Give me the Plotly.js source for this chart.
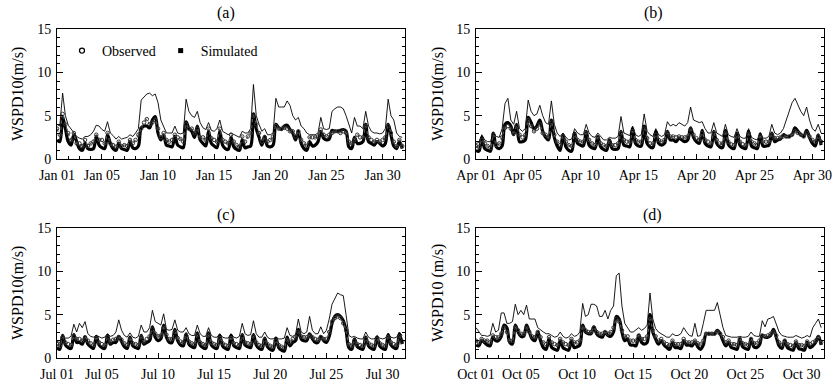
<!DOCTYPE html>
<html><head><meta charset="utf-8">
<script src="https://cdn.plot.ly/plotly-3.0.1.min.js"></script>
<style>html,body{margin:0;padding:0;background:#fff}#chart{width:837px;height:384px}</style>
</head><body><div id="chart"></div>
<script>
// ---- categories / labels ----
const panelLabels = ['(a)', '(b)', '(c)', '(d)'];
const monthNames = ['Jan', 'Apr', 'Jul', 'Oct'];
const monthIndex = [0, 3, 6, 9];
const monthDays = [31, 30, 31, 31];
const tickDays = [1, 5, 10, 15, 20, 25, 30];
const yTitles = ['WSPD10(m/s)', 'WSPD10(m/s)', 'WSPD10(m/s)', 'WSPD10 (m/s)'];
const legendNames = ['Observed', 'Simulated'];
const samplesPerDay = 4; // 00, 06, 12, 18 h

// ---- series values (m/s), 4 samples per day ----
const janThin = [
4.0,3.8,7.6,5.0, 3.9,3.5,3.0,2.6, 2.4,2.3,2.6,2.6, 2.8,3.2,3.9,3.8, 3.4,3.2,4.3,3.0,
2.7,2.3,2.6,2.3, 2.4,2.5,2.8,2.6, 3.0,3.5,6.8,7.2, 7.5,7.6,7.3,7.5, 6.5,4.5,3.8,3.0,
3.0,3.0,3.8,3.0, 2.9,3.0,6.9,5.5, 5.0,4.8,5.5,4.2, 3.6,3.4,4.2,3.3, 3.2,3.5,4.5,3.2,
3.0,2.8,3.0,2.8, 2.6,2.5,3.2,3.0, 3.0,3.5,8.6,5.0, 4.0,3.2,3.5,2.8, 2.8,3.0,7.0,6.0,
6.0,6.0,6.7,6.2, 5.0,4.5,4.8,3.8, 3.5,3.0,2.8,2.8, 2.8,3.0,4.8,3.5, 3.4,3.5,5.5,5.8,
6.0,6.0,5.8,5.0, 4.0,3.0,4.8,3.8, 3.8,3.5,5.5,3.8, 3.2,3.0,3.0,2.9, 3.0,3.5,6.9,5.0,
4.5,3.0,2.6,2.5];
const janObs = [
3.5,2.8,5.2,4.0, 3.0,2.2,3.0,1.8, 1.8,1.5,2.2,1.5, 1.8,2.0,2.8,2.2, 2.2,1.8,3.0,1.8,
1.6,1.4,2.0,1.5, 1.6,1.5,2.2,1.8, 2.2,2.8,3.5,4.2, 4.6,4.0,4.2,4.5, 3.5,2.5,3.0,2.2,
2.0,2.2,2.8,2.5, 2.3,2.0,4.0,3.5, 3.5,3.0,3.5,2.5, 2.5,2.2,3.5,2.4, 2.2,2.0,3.5,2.2,
2.0,1.8,2.8,2.0, 1.6,1.4,2.6,2.0, 2.6,3.0,5.0,4.0, 3.0,2.0,2.5,2.0, 2.2,2.6,3.8,3.5,
3.5,3.6,3.5,3.2, 3.2,2.6,3.2,2.2, 1.8,1.5,2.5,2.5, 2.5,2.6,3.4,2.8, 2.6,2.8,3.0,3.2,
3.2,3.0,3.2,3.0, 2.0,1.8,2.2,2.8, 2.5,2.5,3.8,2.5, 2.2,2.0,2.2,2.0, 2.2,2.5,3.8,3.0,
2.0,1.5,2.2,1.5];
const janSim = [
2.2,2.0,4.8,3.5, 2.0,1.6,2.8,2.0, 1.2,1.0,1.8,1.2, 1.1,1.2,2.6,1.6, 1.3,1.2,2.8,1.8,
1.2,1.0,1.8,1.2, 1.1,1.0,2.0,1.3, 1.2,1.5,3.6,3.8, 3.8,3.6,4.5,4.9, 3.0,2.2,2.8,1.6,
1.5,1.4,2.6,1.6, 1.4,1.3,4.3,3.5, 3.2,2.5,3.8,2.2, 1.8,1.5,3.2,1.8, 1.5,1.3,3.2,1.6,
1.2,1.1,2.5,1.4, 1.1,1.0,2.2,1.3, 1.4,1.5,5.2,3.5, 2.5,1.6,2.6,1.5, 1.4,1.6,4.0,3.6,
3.4,3.8,3.9,3.4, 3.0,2.2,3.2,1.8, 1.2,1.0,2.0,1.5, 1.6,2.0,3.2,2.4, 2.2,2.3,3.3,3.2,
3.2,3.3,3.4,3.2, 1.4,1.2,2.5,1.8, 1.8,2.0,4.0,2.0, 1.8,1.6,2.0,1.8, 1.5,1.8,4.0,2.8,
1.5,1.2,2.0,1.2];

const aprThin = [
1.8,1.9,2.8,2.2, 2.0,2.0,3.0,2.6, 2.5,3.5,6.4,7.0, 4.5,4.0,5.5,3.5, 3.2,3.5,6.8,5.5,
5.0,5.2,6.2,5.0, 4.2,4.0,6.7,4.0, 3.0,2.6,3.0,2.5, 2.2,2.3,3.5,3.0, 2.8,2.8,4.0,3.0,
2.6,2.5,3.0,2.6, 2.2,2.2,2.5,2.4, 2.4,2.6,4.9,3.0, 2.8,2.7,3.8,2.8, 2.6,2.8,5.2,3.2,
2.8,2.6,3.5,2.8, 2.6,2.8,4.3,3.8, 4.0,3.8,4.2,4.0, 3.8,4.2,6.0,4.5, 4.3,4.2,4.3,3.5,
3.0,3.0,4.2,3.0, 2.8,2.6,4.0,2.8, 2.6,2.5,3.5,2.6, 2.4,2.4,3.5,2.5, 2.3,2.2,3.0,2.4,
2.4,2.6,4.0,3.0, 2.8,3.0,3.5,4.5, 5.5,6.5,7.0,6.2, 5.5,5.0,6.0,4.5, 3.5,3.2,4.0,3.0];
const aprObs = [
1.5,1.4,2.2,1.8, 1.5,1.3,2.8,1.6, 1.8,2.5,3.6,3.8, 3.5,3.0,3.8,2.8, 2.5,2.8,4.5,3.8,
3.2,3.5,4.0,3.0, 2.8,2.5,4.2,2.8, 2.0,1.6,2.6,2.0, 1.6,1.5,2.8,2.2, 2.0,2.0,3.0,2.2,
1.8,1.6,2.5,1.8, 1.6,1.5,2.0,1.6, 1.6,1.8,3.0,2.2, 2.0,2.0,3.2,2.2, 2.0,2.0,3.5,2.4,
1.8,1.8,2.8,2.2, 2.0,2.2,3.0,2.6, 2.6,2.5,2.6,2.5, 2.5,2.6,3.4,2.8, 2.4,2.2,3.0,2.2,
2.0,1.8,3.0,2.2, 1.8,1.8,3.0,2.0, 1.7,1.6,2.8,2.0, 1.7,1.6,2.9,2.0, 1.8,1.6,2.6,2.0,
2.0,2.0,2.8,2.4, 2.4,2.5,2.6,2.6, 2.6,2.8,3.2,3.0, 2.8,2.6,3.0,2.6, 2.2,2.0,2.6,2.0];
const aprSim = [
1.0,0.9,2.5,1.2, 1.0,0.9,3.0,1.4, 1.2,1.5,4.0,4.2, 3.8,2.8,4.0,2.0, 2.0,2.2,4.8,4.2,
3.5,3.8,4.5,3.2, 2.5,2.2,4.5,2.5, 1.5,1.0,2.8,1.4, 1.0,0.9,3.0,1.8, 1.6,1.5,3.2,1.6,
1.3,1.2,2.6,1.4, 1.1,1.0,2.2,1.2, 1.1,1.2,3.2,1.6, 1.5,1.4,3.5,1.8, 1.5,1.5,3.8,1.8,
1.4,1.3,3.2,1.8, 1.6,1.8,3.2,2.2, 2.2,2.0,2.4,2.2, 2.0,2.2,3.6,2.5, 2.0,1.8,3.3,1.8,
1.5,1.4,3.2,1.8, 1.4,1.3,3.3,1.7, 1.3,1.2,3.0,1.6, 1.3,1.2,3.2,1.5, 1.3,1.2,2.9,1.5,
1.5,1.6,3.0,2.0, 2.2,2.3,2.8,2.6, 2.6,2.8,3.6,3.2, 2.8,2.6,3.3,2.5, 1.8,1.5,2.8,1.6];

const julThin = [
1.9,1.8,2.2,2.3, 2.3,2.5,3.9,3.0, 4.0,3.5,4.2,2.8, 2.5,2.4,2.6,2.4, 2.3,2.4,2.8,2.5,
2.6,3.0,4.4,3.2, 2.6,2.4,2.9,2.4, 2.3,2.5,3.8,3.0, 3.0,3.5,5.5,4.2, 4.0,3.8,5.1,3.3,
3.2,3.3,4.4,3.2, 3.0,3.0,3.5,2.8, 2.6,2.6,3.8,2.8, 2.5,2.5,3.5,2.6, 2.4,2.4,2.8,2.4,
2.3,2.3,2.8,2.4, 2.3,2.5,4.0,2.8, 2.6,2.7,4.3,2.8, 2.4,2.4,3.0,2.4, 2.2,2.2,2.4,2.2,
2.2,2.3,3.5,2.6, 2.5,2.7,4.5,3.0, 2.8,3.0,4.8,3.2, 2.8,2.8,3.6,2.8, 3.2,4.5,6.2,6.8,
7.5,7.3,7.2,5.0, 2.6,2.4,2.5,2.3, 2.2,2.2,3.0,2.4, 2.2,2.2,2.6,2.3, 2.2,2.3,2.8,2.4,
2.3,2.4,3.0,2.6];
const julObs = [
1.6,1.4,2.4,1.8, 1.6,1.5,2.5,2.2, 2.2,2.0,2.4,2.0, 1.7,1.5,2.3,1.8, 1.6,1.5,2.4,1.9,
2.1,2.2,2.4,2.1, 1.7,1.5,2.2,1.7, 1.6,1.5,2.4,1.9, 2.2,2.5,3.3,2.8, 2.5,2.6,3.5,2.7,
2.2,2.2,3.0,2.3, 1.9,1.8,2.6,1.9, 1.7,1.6,2.6,1.8, 1.6,1.5,2.6,1.8, 1.6,1.5,2.3,1.7,
1.5,1.4,2.3,1.7, 1.6,1.5,2.5,1.8, 1.7,1.6,2.5,1.8, 1.5,1.4,2.1,1.6, 1.4,1.3,2.0,1.5,
1.3,1.2,2.1,1.8, 2.2,2.4,3.0,2.5, 2.4,2.4,2.6,2.4, 2.2,2.1,2.4,2.2, 2.2,3.0,4.2,4.6,
4.8,4.6,4.0,3.2, 1.6,1.4,2.0,1.6, 1.5,1.4,2.2,1.7, 1.5,1.4,2.2,1.7, 1.5,1.4,2.4,1.8,
1.6,1.5,2.5,1.9];
const julSim = [
1.2,1.0,2.6,1.5, 1.2,1.1,2.7,1.8, 1.8,1.6,2.4,1.6, 1.3,1.1,2.5,1.5, 1.2,1.1,2.6,1.6,
1.8,1.8,2.5,1.9, 1.3,1.1,2.4,1.4, 1.2,1.1,2.6,1.6, 1.8,2.0,3.6,2.4, 2.0,2.2,3.8,2.4,
1.8,1.8,3.3,2.0, 1.5,1.4,2.8,1.6, 1.3,1.2,2.9,1.5, 1.2,1.1,2.9,1.5, 1.2,1.1,2.6,1.4,
1.1,1.0,2.6,1.4, 1.2,1.1,2.7,1.5, 1.3,1.2,2.7,1.5, 1.1,1.0,2.3,1.3, 1.0,0.9,2.3,1.2,
0.9,0.8,2.4,1.4, 1.8,2.0,3.3,2.2, 2.0,2.0,2.8,2.2, 1.8,1.8,2.5,2.0, 1.8,2.5,4.0,4.8,
5.0,4.8,4.3,3.2, 1.2,1.0,2.2,1.3, 1.1,1.0,2.4,1.4, 1.1,1.0,2.4,1.4, 1.1,1.0,2.7,1.5,
1.2,1.1,2.8,1.6];

const octThin = [
3.5,3.0,2.6,2.6, 2.5,2.6,4.0,3.0, 3.2,5.2,5.2,4.0, 4.0,4.2,6.2,5.0, 5.5,5.0,6.1,4.5,
4.5,4.5,3.5,3.2, 3.0,2.8,2.8,2.6, 2.4,2.5,3.0,2.5, 2.3,2.4,2.8,2.5, 2.6,3.0,6.3,4.8,
5.0,6.2,6.2,6.0, 4.8,4.8,5.5,4.5, 5.5,6.0,9.5,9.8, 6.0,4.0,3.5,3.0, 3.0,3.2,3.5,3.2,
3.4,3.8,7.5,4.5, 3.4,3.0,2.8,2.5, 2.4,2.4,2.8,2.6, 2.6,2.8,3.5,3.0, 2.6,2.5,4.0,2.5,
2.6,4.0,5.5,5.5, 5.5,5.5,6.4,5.0, 3.5,2.6,2.5,2.4, 2.4,2.4,2.5,2.4, 2.4,2.5,3.0,2.6,
2.5,2.5,4.3,3.6, 4.5,4.6,4.8,4.0, 3.0,2.6,2.5,2.4, 2.4,2.4,2.6,2.4, 2.3,2.4,2.6,2.4,
3.5,4.0,4.5,3.5];
const octObs = [
2.0,1.8,2.2,2.0, 2.0,1.8,2.6,2.4, 2.4,2.8,3.5,3.0, 2.0,2.0,3.5,3.2, 2.8,2.8,3.5,3.0,
2.5,2.4,3.0,2.4, 1.8,1.6,2.4,1.8, 1.6,1.5,2.2,1.8, 1.6,1.5,2.2,1.8, 1.8,2.0,3.5,3.2,
3.0,3.0,3.5,3.0, 2.8,2.8,3.0,2.8, 3.0,3.5,4.5,4.2, 3.2,2.5,2.5,2.0, 2.0,2.0,2.6,2.2,
2.2,2.5,4.5,3.2, 2.5,2.0,2.2,1.8, 1.6,1.5,2.0,1.6, 1.6,1.6,2.2,1.8, 1.8,1.8,2.0,1.7,
1.6,2.0,2.8,2.8, 2.8,2.8,3.0,2.8, 2.4,1.8,2.0,1.6, 1.6,1.5,2.2,1.7, 1.6,1.5,2.2,1.7,
1.7,2.0,2.6,2.5, 2.6,2.8,3.0,2.6, 1.8,1.5,2.0,1.6, 1.5,1.4,1.9,1.5, 1.5,1.4,1.9,1.6,
1.8,2.0,2.4,1.8];
const octSim = [
1.5,1.4,2.0,1.8, 1.5,1.4,2.4,2.0, 2.0,2.5,3.8,3.5, 1.8,1.6,3.8,3.0, 2.5,2.5,3.8,3.0,
2.2,2.0,3.0,2.0, 1.2,1.0,2.2,1.2, 1.0,0.9,2.0,1.2, 1.0,0.9,2.0,1.2, 1.3,1.5,3.8,3.0,
2.8,2.8,3.6,2.8, 2.5,2.4,3.0,2.6, 2.5,3.0,4.8,4.5, 3.0,2.0,2.2,1.5, 1.5,1.4,2.6,1.8,
1.6,1.8,5.0,3.0, 2.2,1.6,2.0,1.5, 1.2,1.0,1.8,1.2, 1.2,1.1,2.0,1.5, 1.5,1.4,1.9,1.3,
1.0,1.5,2.8,2.8, 2.8,2.8,3.2,2.8, 2.0,1.4,1.8,1.2, 1.1,1.0,2.2,1.3, 1.1,1.0,2.2,1.3,
1.2,1.5,2.6,2.4, 2.4,2.6,3.3,2.4, 1.4,1.1,2.0,1.2, 1.0,0.9,1.8,1.1, 1.0,0.9,1.8,1.2,
1.4,1.8,2.5,1.5];

const thinSeries = [janThin, aprThin, julThin, octThin];
const obsSeries = [janObs, aprObs, julObs, octObs];
const simSeries = [janSim, aprSim, julSim, octSim];

// ---- layout geometry (pixels in an 837 x 384 figure) ----
const W = 837, H = 384;
const colPx = [[57, 405], [476, 824]];
const rowPx = [[29, 159], [228, 358]];
const titleXPx = [226, 653, 226, 652];
const titleYPx = [12.5, 12.5, 215, 215];
const yLabXPx = [18, 438];
const FONT = 'Liberation Serif, Times New Roman, Times, serif';
const YEAR = 2012;

function fmt(ms) { return new Date(ms).toISOString().slice(0, 16).replace('T', ' '); }

const traces = [];
const layout = {
  width: W, height: H,
  margin: {l: 0, r: 0, t: 0, b: 0, pad: 0},
  paper_bgcolor: '#fff', plot_bgcolor: '#fff',
  font: {family: FONT, size: 13, color: '#000'},
  showlegend: true,
  legend: {
    orientation: 'h', x: 62 / W, y: 1 - 35 / H, xanchor: 'left', yanchor: 'top',
    bgcolor: 'rgba(0,0,0,0)', font: {family: FONT, size: 14, color: '#000'},
    itemwidth: 30, traceorder: 'normal'
  },
  annotations: []
};

for (let p = 0; p < 4; p++) {
  const col = p % 2, row = Math.floor(p / 2);
  const sfx = p === 0 ? '' : String(p + 1);
  const start = Date.UTC(YEAR, monthIndex[p], 1);
  const end = Date.UTC(YEAR, monthIndex[p], 1 + monthDays[p]);
  const n = thinSeries[p].length;
  const x = [];
  for (let i = 0; i < n; i++) x.push(fmt(start + i * 86400000 / samplesPerDay));
  const tv = [], tt = [];
  tickDays.forEach(d => {
    if (d <= monthDays[p]) {
      tv.push(fmt(Date.UTC(YEAR, monthIndex[p], d)));
      tt.push(monthNames[p] + ' ' + String(d).padStart(2, '0'));
    }
  });
  const xa = 'x' + sfx, ya = 'y' + sfx;

  traces.push({
    x: x, y: thinSeries[p], xaxis: xa, yaxis: ya,
    type: 'scatter', mode: 'lines', line: {color: '#000', width: 0.9},
    showlegend: false, hoverinfo: 'skip'
  });
  traces.push({
    x: x, y: simSeries[p], xaxis: xa, yaxis: ya,
    type: 'scatter', mode: 'lines', name: legendNames[1],
    line: {color: '#000', width: 3.2, shape: 'spline', smoothing: 1},
    showlegend: false
  });
  traces.push({
    x: x, y: obsSeries[p], xaxis: xa, yaxis: ya,
    type: 'scatter', mode: 'lines+markers', name: legendNames[0],
    line: {color: '#555', width: 1.2, dash: 'dot', shape: 'spline', smoothing: 1},
    marker: {symbol: 'circle-open', size: 3.5, color: '#333', line: {width: 1, color: '#333'}},
    showlegend: false
  });
}
// legend-only entries (marker keys as in the reference legend)
traces.push({x: [null], y: [null], type: 'scatter', mode: 'markers', name: legendNames[0],
  marker: {symbol: 'circle-open', size: 5, color: '#000', line: {width: 1.3, color: '#000'}}, legendrank: 1});
traces.push({x: [null], y: [null], type: 'scatter', mode: 'markers', name: legendNames[1],
  marker: {symbol: 'square', size: 5, color: '#000'}, legendrank: 2});

for (let p = 0; p < 4; p++) {
  const col = p % 2, row = Math.floor(p / 2);
  const sfx = p === 0 ? '' : String(p + 1);
  const start = Date.UTC(YEAR, monthIndex[p], 1);
  const end = Date.UTC(YEAR, monthIndex[p], 1 + monthDays[p]);
  const tv = [], tt = [];
  tickDays.forEach(d => {
    if (d <= monthDays[p]) {
      tv.push(fmt(Date.UTC(YEAR, monthIndex[p], d)));
      tt.push(monthNames[p] + ' ' + String(d).padStart(2, '0'));
    }
  });
  layout['xaxis' + sfx] = {
    type: 'date', domain: [colPx[col][0] / W, colPx[col][1] / W], anchor: 'y' + sfx,
    range: [fmt(start), fmt(end)], tickmode: 'array', tickvals: tv, ticktext: tt,
    ticks: 'inside', ticklen: 5, tickwidth: 1, tickcolor: '#000',
    minor: {dtick: 86400000, ticks: 'inside', ticklen: 3, tickwidth: 1, tickcolor: '#000', showgrid: false},
    showline: true, linecolor: '#000', linewidth: 1, mirror: true,
    showgrid: false, zeroline: false, ticklabelstandoff: 3,
    tickfont: {family: FONT, size: 14, color: '#000'}, fixedrange: true
  };
  layout['yaxis' + sfx] = {
    domain: [1 - rowPx[row][1] / H, 1 - rowPx[row][0] / H], anchor: 'x' + sfx,
    range: [0, 15], tickmode: 'array', tickvals: [0, 5, 10, 15],
    ticks: 'inside', ticklen: 6, tickwidth: 1, tickcolor: '#000',
    minor: {dtick: 1, ticks: 'inside', ticklen: 3, tickwidth: 1, tickcolor: '#000', showgrid: false},
    showline: true, linecolor: '#000', linewidth: 1, mirror: 'ticks',
    showgrid: false, zeroline: false, ticklabelstandoff: 2,
    tickfont: {family: FONT, size: 14, color: '#000'}, fixedrange: true
  };
  layout.annotations.push({
    text: panelLabels[p], xref: 'paper', yref: 'paper',
    x: titleXPx[p] / W, y: 1 - titleYPx[p] / H, xanchor: 'center', yanchor: 'middle',
    showarrow: false, font: {family: FONT, size: 16, color: '#000'}
  });
  layout.annotations.push({
    text: yTitles[p], xref: 'paper', yref: 'paper', textangle: -90,
    x: yLabXPx[col] / W, y: 1 - (rowPx[row][0] + rowPx[row][1]) / 2 / H,
    xanchor: 'center', yanchor: 'middle',
    showarrow: false, font: {family: FONT, size: 16, color: '#000'}
  });
}

Plotly.newPlot('chart', traces, layout, {displayModeBar: false, staticPlot: true});
</script>
</body></html>
